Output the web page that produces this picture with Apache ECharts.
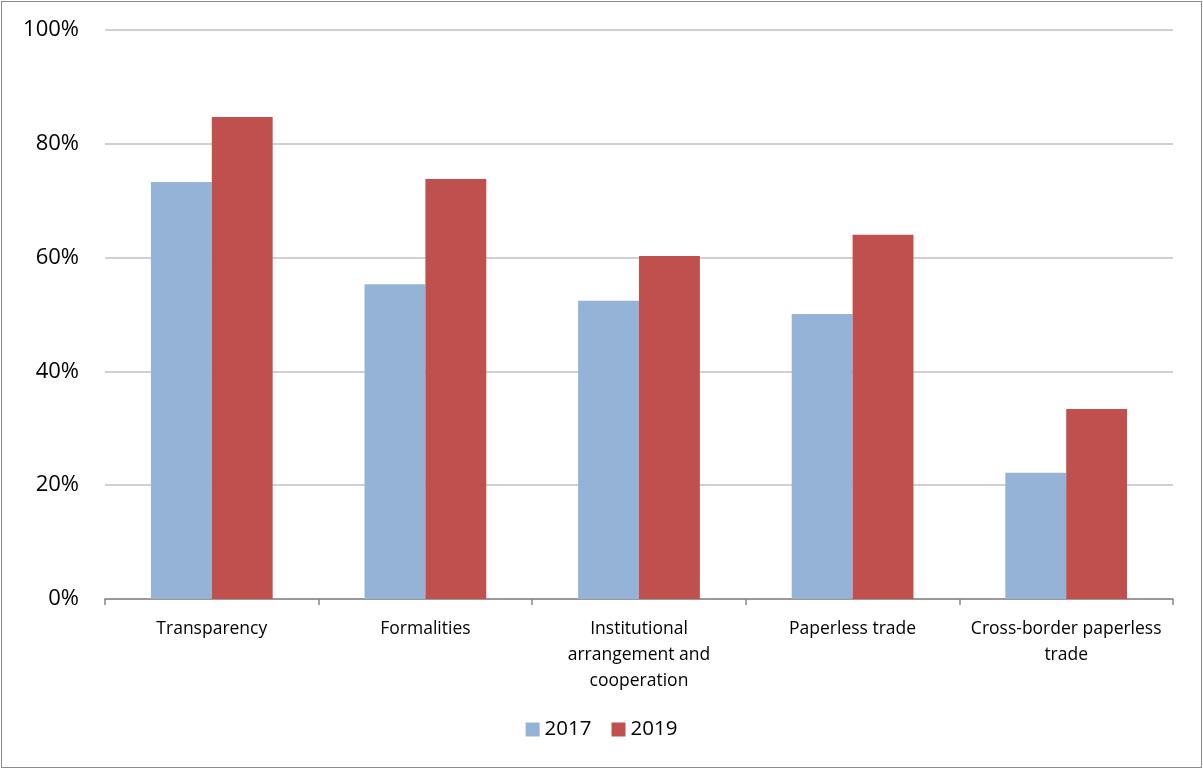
<!DOCTYPE html>
<html>
<head>
<meta charset="utf-8">
<script src="https://cdn.jsdelivr.net/npm/echarts@6/dist/echarts.min.js"></script>
<style>
html,body{margin:0;padding:0;background:#fff;}
#wrap{position:absolute;left:1px;top:1px;width:1199px;height:765px;border:1px solid #8c8c8c;}
#chart{width:1203px;height:769px;position:absolute;left:-2px;top:-2px;}
</style>
</head>
<body>
<div id="wrap"><div id="chart"></div></div>
<script>
const categories = ["Transparency", "Formalities", "Institutional\narrangement and\ncooperation", "Paperless trade", "Cross-border paperless\ntrade"];
const seriesNames = ["2017", "2019"];
const values2017 = [0.733, 0.553, 0.524, 0.501, 0.222];
const values2019 = [0.847, 0.738, 0.603, 0.640, 0.334];
const yTicks = [0, 0.2, 0.4, 0.6, 0.8, 1.0];
const colors = ["#95b3d7", "#c0504d"];

const chart = echarts.init(document.getElementById('chart'), null, {renderer: 'canvas'});
const font = "'Open Sans', 'Liberation Sans', sans-serif";
chart.setOption({
  animation: false,
  backgroundColor: 'transparent',
  grid: {left: 105, right: 30, top: 30, bottom: 170, containLabel: false},
  legend: {
    data: seriesNames,
    bottom: 24,
    left: 'center',
    itemWidth: 14, itemHeight: 14, itemGap: 20,
    icon: 'rect',
    textStyle: {fontFamily: font, fontSize: 20.5, color: '#000'}
  },
  xAxis: {
    type: 'category',
    data: categories,
    axisLine: {lineStyle: {color: '#868686', width: 1.5}},
    axisTick: {show: true, length: 6, lineStyle: {color: '#868686', width: 1.5}},
    axisLabel: {fontFamily: font, fontSize: 17.5, color: '#000', margin: 17, lineHeight: 26, interval: 0}
  },
  yAxis: {
    type: 'value',
    min: 0, max: 1, interval: 0.2,
    axisLine: {show: false},
    axisTick: {show: false},
    splitLine: {lineStyle: {color: '#c0c0c0', width: 1.5}},
    axisLabel: {
      fontFamily: font, fontSize: 22, color: '#000', margin: 26,
      formatter: v => Math.round(v * 100) + '%'
    }
  },
  series: [
    {name: seriesNames[0], type: 'bar', data: values2017, itemStyle: {color: colors[0]}, barGap: '0%', barCategoryGap: '43%'},
    {name: seriesNames[1], type: 'bar', data: values2019, itemStyle: {color: colors[1]}, barGap: '0%', barCategoryGap: '43%'}
  ]
});
</script>
</body>
</html>
